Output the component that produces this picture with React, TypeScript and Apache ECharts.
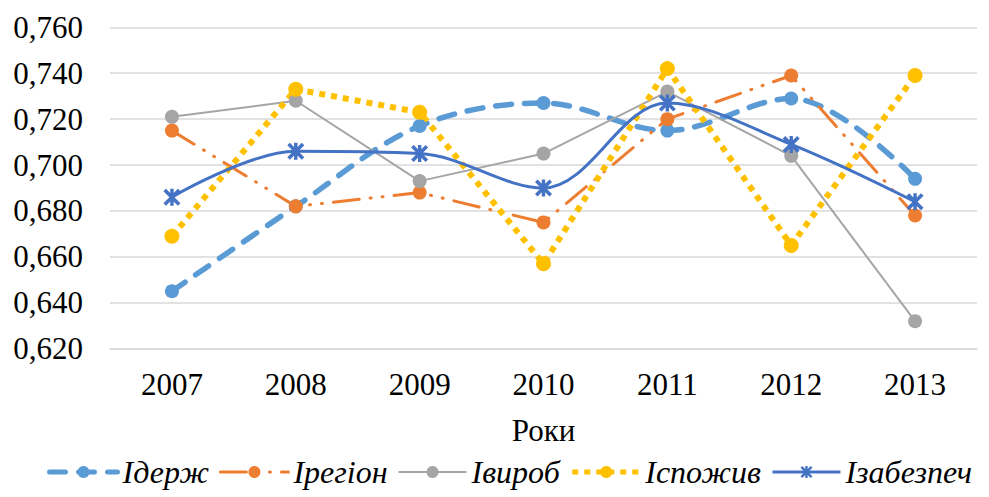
import React, { useEffect, useRef } from "react";
import * as echarts from "echarts";

const years = ["2007", "2008", "2009", "2010", "2011", "2012", "2013"];
const iDerzh = [0.645, 0.682, 0.717, 0.727, 0.715, 0.729, 0.694];
const iRegion = [0.715, 0.682, 0.688, 0.675, 0.72, 0.739, 0.678];
const iVyrob = [0.721, 0.728, 0.693, 0.705, 0.732, 0.704, 0.632];
const iSpozhyv = [0.669, 0.733, 0.723, 0.657, 0.742, 0.665, 0.739];
const iZabezpech = [0.686, 0.706, 0.705, 0.69, 0.727, 0.709, 0.684];
const seriesNames = ["Ідерж", "Ірегіон", "Івироб", "Іспожив", "Ізабезпеч"];
const yMin = 0.62;
const yMax = 0.76;
const yStep = 0.02;
const xName = "Роки";

const FONT = "'Liberation Serif', 'Times New Roman', serif";
const STAR =
  "path://M8,0 L12,0 L12,20 L8,20 Z M0,3 L3,0 L20,17 L17,20 Z M17,0 L20,3 L3,20 L0,17 Z";

const legendWidths = [5, 3, 2, 5, 3];

export default function App() {
  const ref = useRef<HTMLDivElement>(null);
  useEffect(() => {
    if (!ref.current) return;
    const chart = echarts.init(ref.current, null, { renderer: "svg" });
    chart.setOption({
      animation: false,
      backgroundColor: "#fff",
      grid: { left: 110, right: 12, top: 27.3, bottom: 148.3, containLabel: false },
      xAxis: {
        type: "category",
        data: years,
        boundaryGap: true,
        axisLine: { show: true, lineStyle: { color: "#D9D9D9", width: 1.5 } },
        axisTick: { show: false },
        axisLabel: { color: "#000", fontFamily: FONT, fontSize: 31, margin: 20 },
        name: xName,
        nameLocation: "middle",
        nameGap: 66,
        nameTextStyle: { color: "#000", fontFamily: FONT, fontSize: 31 },
      },
      yAxis: {
        type: "value",
        min: yMin,
        max: yMax,
        interval: yStep,
        axisLine: { show: false },
        axisTick: { show: false },
        splitLine: { lineStyle: { color: "#D9D9D9", width: 1.5 } },
        axisLabel: {
          color: "#000",
          fontFamily: FONT,
          fontSize: 31,
          margin: 27,
          formatter: (v: number) => v.toFixed(3).replace(".", ","),
        },
      },
      legend: {
        left: 42,
        top: 451,
        itemWidth: 68,
        itemHeight: 15,
        itemGap: 10,
        textStyle: { color: "#000", fontFamily: FONT, fontSize: 32, fontStyle: "italic" },
        data: seriesNames.map((n, i) => ({ name: n, lineStyle: { width: legendWidths[i] } })),
      },
      series: [
        {
          name: seriesNames[0],
          type: "line",
          data: iDerzh,
          smooth: 0.35,
          symbol: "circle",
          symbolSize: 14,
          itemStyle: { color: "#5B9BD5" },
          lineStyle: { color: "#5B9BD5", width: 5.5, type: [16, 13], cap: "round" },
        },
        {
          name: seriesNames[1],
          type: "line",
          data: iRegion,
          symbol: "circle",
          symbolSize: 14,
          itemStyle: { color: "#ED7D31" },
          lineStyle: { color: "#ED7D31", width: 3, type: [26, 11, 1, 11, 1, 11], cap: "round" },
        },
        {
          name: seriesNames[2],
          type: "line",
          data: iVyrob,
          symbol: "circle",
          symbolSize: 14,
          itemStyle: { color: "#A5A5A5" },
          lineStyle: { color: "#A5A5A5", width: 2 },
        },
        {
          name: seriesNames[3],
          type: "line",
          data: iSpozhyv,
          symbol: "circle",
          symbolSize: 15,
          itemStyle: { color: "#FFC000" },
          lineStyle: { color: "#FFC000", width: 6, type: [6, 6] },
        },
        {
          name: seriesNames[4],
          type: "line",
          data: iZabezpech,
          smooth: 0.35,
          symbol: STAR,
          symbolSize: 17,
          itemStyle: { color: "#4472C4" },
          lineStyle: { color: "#4472C4", width: 3 },
        },
      ],
    });
    return () => chart.dispose();
  }, []);
  return (
    <div
      ref={ref}
      style={{ position: "fixed", left: 0, top: 0, width: 989, height: 497, background: "#fff" }}
    />
  );
}
